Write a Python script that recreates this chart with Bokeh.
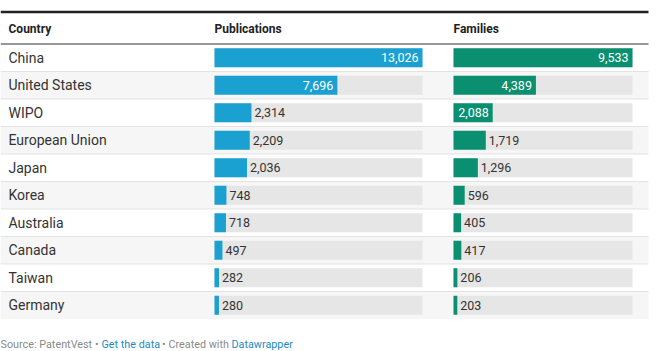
from bokeh.plotting import figure
from bokeh.models import Range1d, ColumnDataSource
from bokeh.core.properties import value
from bokeh.embed import file_html
from bokeh.resources import INLINE

# ---- data ----
countries = ["China", "United States", "WIPO", "European Union", "Japan",
             "Korea", "Australia", "Canada", "Taiwan", "Germany"]
publications = [13026, 7696, 2314, 2209, 2036, 748, 718, 497, 282, 280]
families = [9533, 4389, 2088, 1719, 1296, 596, 405, 417, 206, 203]
headers = ["Country", "Publications", "Families"]
footer_parts = ["Source: PatentVest", "•", "Get the data", "•", "Created with", "Datawrapper"]

# ---- layout constants (pixels) ----
W, H = 660, 351
ROW_PX = 27.5
ROW0_PX = 57.25
TABLE_R = 648
PUB_L, PUB_W = 214, 208
FAM_L, FAM_W = 453, 179
FONT = "Roboto"
BLUE = "#1ba1d1"
GREEN = "#0a8f70"
TRACK = "#e6e6e6"
FOOT_X = [0, 94.5, 101, 161.5, 168, 231]


def row_of(px):
    return (px - ROW0_PX) / ROW_PX


p = figure(width=W, height=H, x_range=Range1d(0, W),
           y_range=Range1d(row_of(H), row_of(0)),
           x_axis_type=None, y_axis_type=None, toolbar_location=None,
           output_backend="svg", min_border=0, outline_line_color=None)
p.grid.visible = False
p.background_fill_color = "white"
p.border_fill_color = "white"

pmax = max(publications)
fmax = max(families)
p.extra_x_ranges = {
    "pub": Range1d(-PUB_L * pmax / PUB_W, (W - PUB_L) * pmax / PUB_W),
    "fam": Range1d(-FAM_L * fmax / FAM_W, (W - FAM_L) * fmax / FAM_W),
}

n = len(countries)
idx = list(range(n))

# stripes
odd = [i for i in idx if i % 2 == 1]
p.quad(left=0, right=TABLE_R, top=[i - 0.5 for i in odd], bottom=[i + 0.5 for i in odd],
       fill_color="#f6f6f6", line_color=None)

# row separators
seps = [i + 0.5 for i in idx[:-1]]
p.segment(x0=0, x1=TABLE_R, y0=seps, y1=seps, line_color="#e3e3e3", line_width=1)

# header line and top rule
p.segment(x0=[0], x1=[TABLE_R], y0=[-0.5], y1=[-0.5], line_color="#333333", line_width=1.2)
p.segment(x0=[0], x1=[TABLE_R], y0=[row_of(11.5)], y1=[row_of(11.5)], line_color="#222222", line_width=2.5)

# headers
p.text(x=[8, PUB_L, FAM_L], y=[row_of(28.5)] * 3, text=headers,
       text_font=value(FONT), text_font_style="bold", text_font_size="12px",
       text_color="#222222", text_baseline="middle", text_align="left")

# country labels
p.text(x=[8] * n, y=idx, text=countries, text_font=value(FONT), text_font_size="14px",
       text_color="#333333", text_baseline="middle", text_align="left")

BAR_H = 19 / ROW_PX


def draw_col(vals, vmax, rng, color, colw):
    src = ColumnDataSource(dict(y=idx, v=vals, m=[vmax] * n))
    p.hbar(y="y", left=0, right="m", height=BAR_H, source=src, x_range_name=rng,
           fill_color=TRACK, line_color=None)
    p.hbar(y="y", left=0, right="v", height=BAR_H, source=src, x_range_name=rng,
           fill_color=color, line_color=None)
    inside = [i for i in idx if vals[i] / vmax * colw >= 38]
    outside = [i for i in idx if vals[i] / vmax * colw < 38]
    p.text(x=[vals[i] for i in inside], y=inside, text=[f"{vals[i]:,}" for i in inside],
           x_range_name=rng, x_offset=-4, text_align="right", text_baseline="middle",
           text_font=value(FONT), text_font_size="12.5px", text_color="white")
    p.text(x=[vals[i] for i in outside], y=outside, text=[f"{vals[i]:,}" for i in outside],
           x_range_name=rng, x_offset=3, text_align="left", text_baseline="middle",
           text_font=value(FONT), text_font_size="12.5px", text_color="#333333")


draw_col(publications, pmax, "pub", BLUE, PUB_W)
draw_col(families, fmax, "fam", GREEN, FAM_W)

# footer
fy = row_of(343.5)
p.text(x=FOOT_X, y=[fy] * len(footer_parts), text=footer_parts,
       text_color=["#8a8a8a", "#8a8a8a", "#1f8ac6", "#8a8a8a", "#8a8a8a", "#1f8ac6"],
       text_font=value(FONT), text_font_size="10.8px", text_baseline="middle", text_align="left")

open("out.html", "w").write(file_html(p, INLINE))
